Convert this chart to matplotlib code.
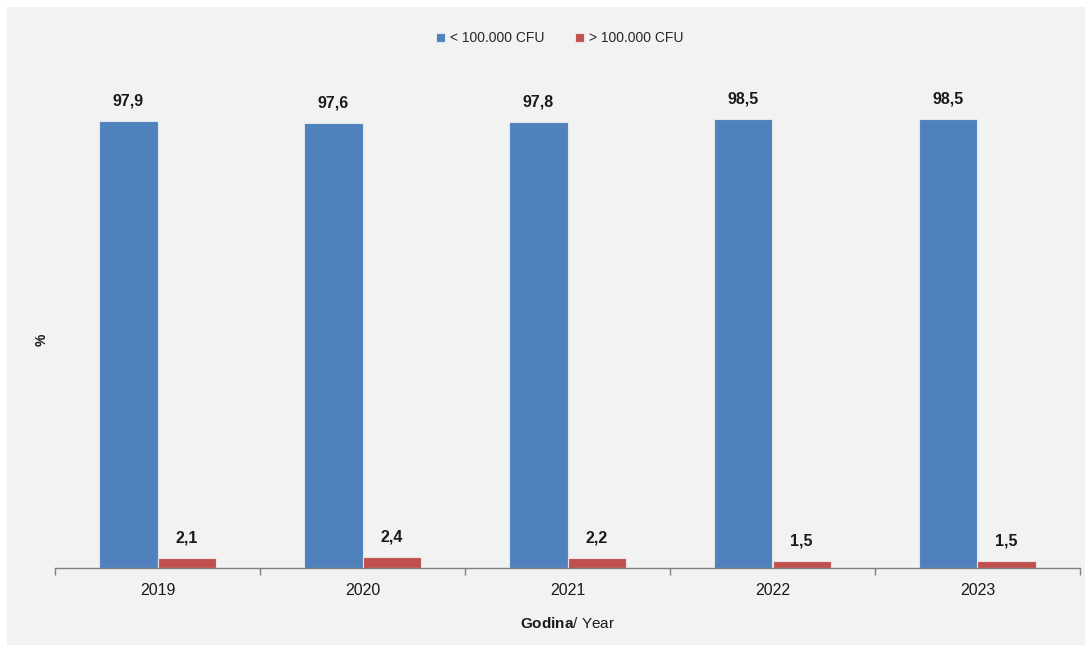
import matplotlib
matplotlib.use("Agg")
import matplotlib.pyplot as plt
import numpy as np
from matplotlib.patches import Rectangle

plt.rcParams['font.family'] = ['Liberation Sans', 'DejaVu Sans']
plt.rcParams['mathtext.fontset'] = 'custom'
plt.rcParams['mathtext.rm'] = 'Liberation Sans'
plt.rcParams['mathtext.bf'] = 'Liberation Sans:bold'

years = ['2019', '2020', '2021', '2022', '2023']
below = [97.9, 97.6, 97.8, 98.5, 98.5]
above = [2.1, 2.4, 2.2, 1.5, 1.5]
series_names = ['< 100.000 CFU', '> 100.000 CFU']

W, H = 1088, 651
fig = plt.figure(figsize=(W / 100, H / 100), dpi=100)
fig.patch.set_facecolor('white')
fig.patches.append(Rectangle((7 / W, 6 / H), (1085 - 7) / W, (645 - 7) / H,
                             transform=fig.transFigure, facecolor='#f2f2f2',
                             edgecolor='none', zorder=-10))

left, right = 55 / W, 1080 / W
bottom = (H - 568) / H
top = (H - 89) / H
ax = fig.add_axes([left, bottom, right - left, top - bottom])
ax.set_facecolor('none')

x = np.arange(len(years))
bw = 0.283
blue = '#4F81BD'
red = '#C0504D'
b1 = ax.bar(x - bw / 2, below, bw, color=blue, edgecolor='#dfe6ee', linewidth=0.8,
            label=series_names[0])
b2 = ax.bar(x + bw / 2, above, bw, color=red, edgecolor='#efe2e2', linewidth=0.8,
            label=series_names[1])

fmt = lambda v: f"{v:.1f}".replace('.', ',')
for rects, vals in ((b1, below), (b2, above)):
    for r, v in zip(rects, vals):
        ax.annotate(fmt(v), (r.get_x() + r.get_width() / 2, r.get_height()),
                    xytext=(0, 9), textcoords='offset points', ha='center',
                    va='bottom', fontsize=11.5, fontweight='bold', color='#1a1a1a')

ax.set_xlim(-0.5, len(years) - 0.5)
ax.set_ylim(0, 105)
ax.set_yticks([])
for s in ('top', 'right', 'left'):
    ax.spines[s].set_visible(False)
ax.spines['bottom'].set_color('#808080')
ax.spines['bottom'].set_linewidth(1.0)

ax.set_xticks(x)
ax.set_xticklabels(years, fontsize=11.5, color='#1a1a1a')
ax.tick_params(axis='x', which='major', length=0, pad=11)
ax.set_xticks(np.arange(len(years) + 1) - 0.5, minor=True)
ax.tick_params(axis='x', which='minor', length=5, color='#808080', width=1.0)

ax.set_xlabel(r'$\mathbf{Godina}$/ Year', fontsize=11, color='#1a1a1a', labelpad=13)
fig.text(42 / W, 1 - 340 / H, '%', rotation=90, ha='center', va='center',
         fontsize=10, fontweight='bold', color='#1a1a1a')

fig.legend(handles=[b1, b2], labels=series_names, loc='center',
           bbox_to_anchor=(560 / W, 1 - 38 / H), ncol=2, frameon=False,
           fontsize=10, handlelength=0.6, handleheight=0.6, handletextpad=0.4,
           columnspacing=2.2, labelcolor='#262626')

fig.savefig('out.png', dpi=100, facecolor=fig.get_facecolor())
